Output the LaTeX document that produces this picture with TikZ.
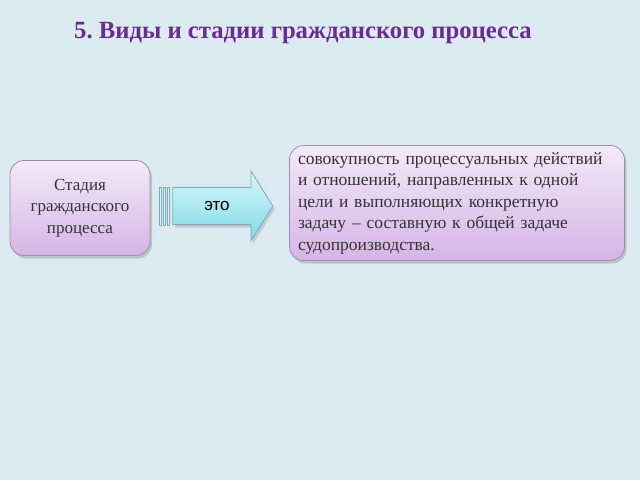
\documentclass[tikz,border=0pt]{standalone}
\usepackage{fontspec}
\setmainfont{Liberation Serif}
\newfontfamily\arrowfont{Liberation Sans}
\usepackage{xcolor}
\usepackage{tikz}
\usetikzlibrary{positioning}
\usetikzlibrary{shapes.arrows}
\usetikzlibrary{shadows}
\frenchspacing

\definecolor{bgblue}{HTML}{DCEBF1}
\definecolor{titlepurple}{HTML}{6B2C91}
\definecolor{boxtop}{HTML}{F3EAF8}
\definecolor{boxbottom}{HTML}{D5B5E6}
\definecolor{boxedge}{HTML}{9C8FA8}
\definecolor{arrowtop}{HTML}{D9F7FA}
\definecolor{arrowbottom}{HTML}{7FD9E6}
\definecolor{arrowedge}{HTML}{7FA9B8}
\definecolor{textgray}{HTML}{333333}

\begin{document}
\begin{tikzpicture}[x=1pt, y=-1pt,
    stage/.style={rectangle, rounded corners=14pt, draw=boxedge, line width=0.8pt,
        top color=boxtop, bottom color=boxbottom, text=textgray,
        drop shadow={shadow xshift=2pt, shadow yshift=-3pt, opacity=0.35}},
    bigarrow/.style={single arrow, draw=arrowedge, line width=0.8pt,
        top color=arrowtop, bottom color=arrowbottom,
        single arrow head extend=15pt, single arrow head indent=0pt,
        single arrow tip angle=116,
        minimum height=100pt, minimum width=70pt, inner xsep=0pt, inner ysep=12pt,
        drop shadow={shadow xshift=2pt, shadow yshift=-3pt, opacity=0.3},
        font=\arrowfont\fontsize{17}{20}\selectfont},
    stripe/.style={rectangle, draw=arrowedge, line width=0.5pt, fill=arrowtop,
        minimum width=2pt, minimum height=38pt, inner sep=0pt}
]
\fill[bgblue] (0,0) rectangle (640,480);
\useasboundingbox (0,0) rectangle (640,480);

\node[text=titlepurple, font=\bfseries\fontsize{24.7}{28}\selectfont] (title) at (303,33)
    {5. Виды и стадии гражданского процесса};

\node[stage, minimum width=140pt, minimum height=95pt, align=center,
    font=\fontsize{17}{21.5}\selectfont] (stage) at (80,208)
    {Стадия\\гражданского\\процесса};

\node[bigarrow] (eto) at (217,206) {это};
\node[stripe] (s1) at (160,206) {};
\node[stripe] (s2) [right=1.5pt of s1] {};
\node[stripe] (s3) [right=1.5pt of s2] {};

\node[stage, minimum width=335pt, minimum height=115pt, text width=318pt, align=left,
    font=\fontsize{17.5}{21.5}\selectfont] (def) at (457,203)
    {совокупность процессуальных действий\\
     и отношений, направленных к одной\\
     цели и выполняющих конкретную\\
     задачу -- составную к общей задаче\\
     судопроизводства.};

\end{tikzpicture}
\end{document}
